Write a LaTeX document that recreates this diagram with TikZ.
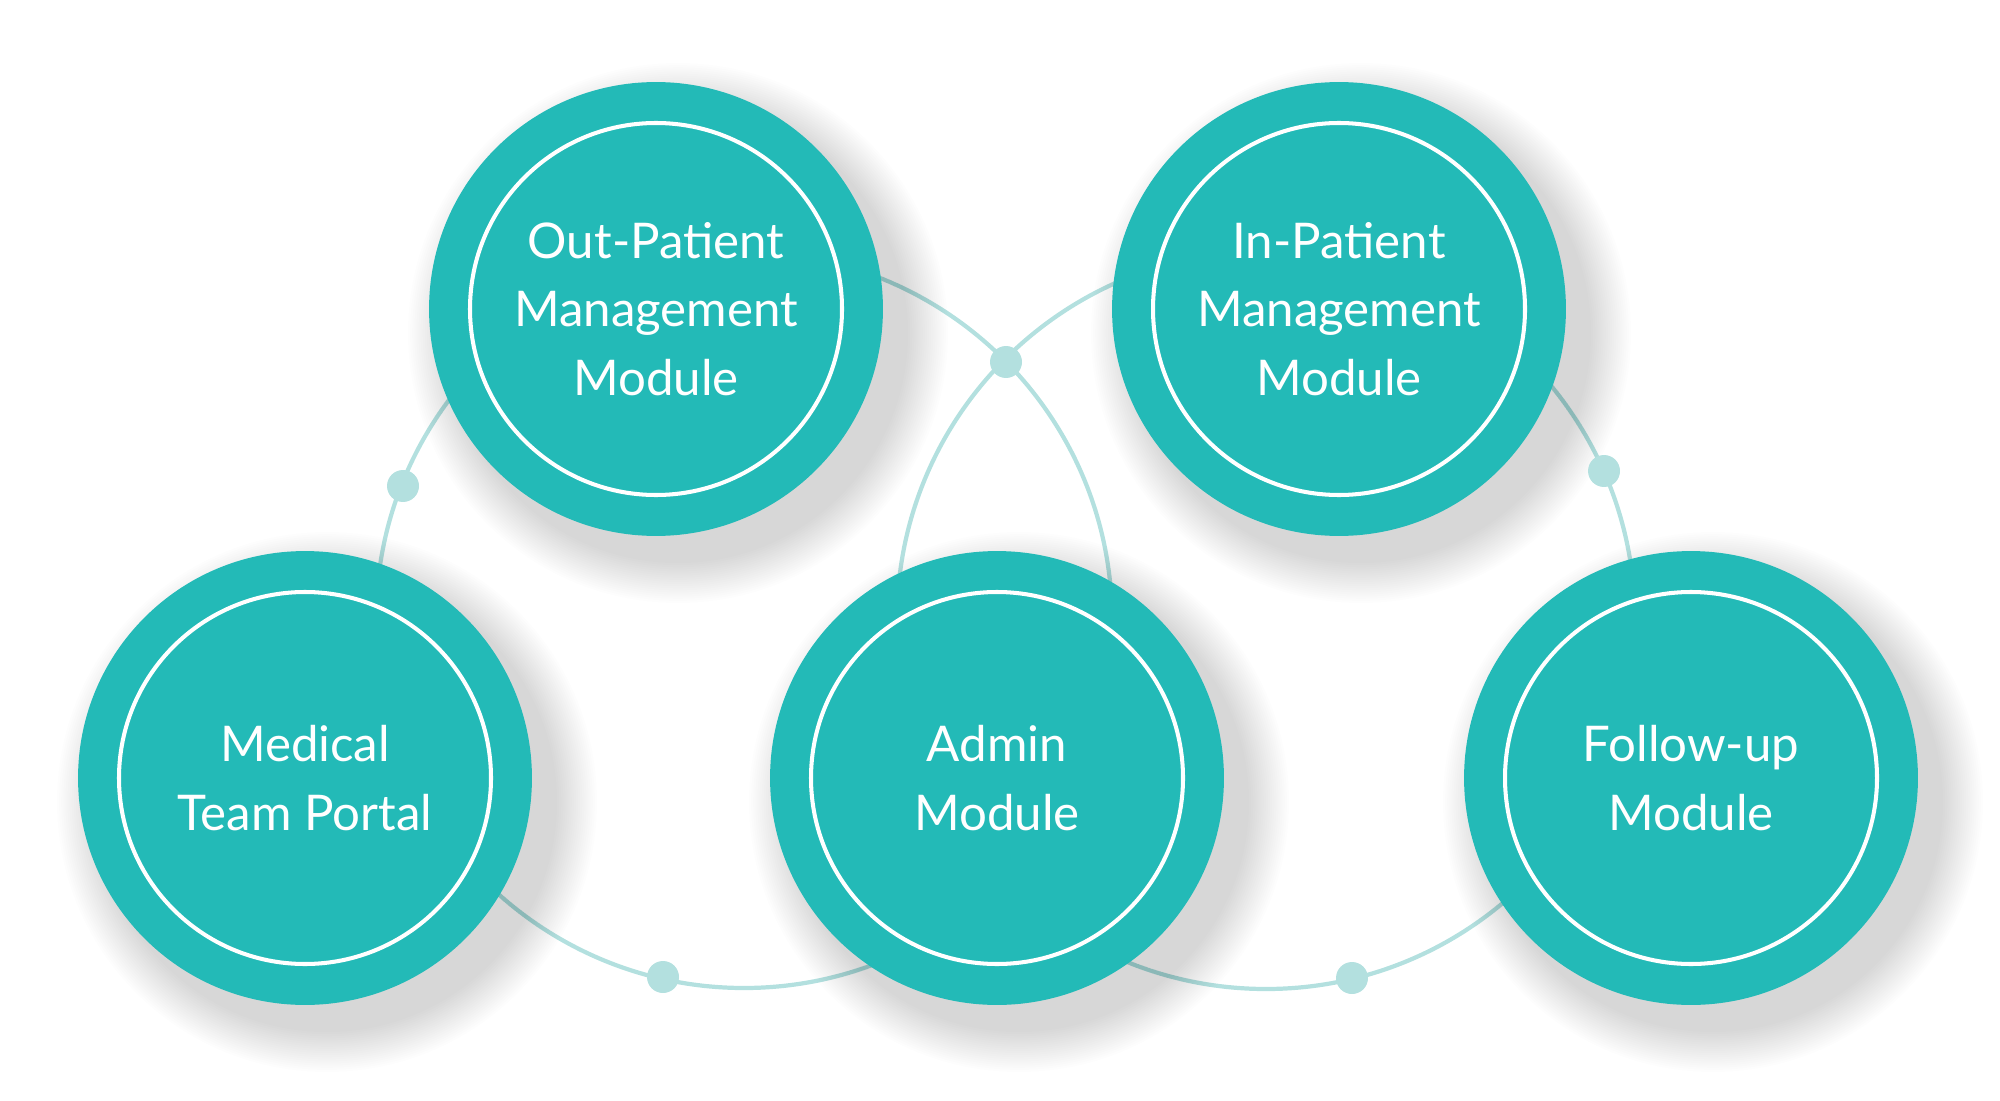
\documentclass[tikz,border=0pt]{standalone}
\usepackage{fontspec}
\setmainfont{Lato}
\definecolor{modteal}{HTML}{23BAB7}
\definecolor{ringcol}{HTML}{B3E0DF}

\begin{document}
\begin{tikzpicture}[x=0.02cm, y=-0.02cm]
        \tikzstyle{every node}=[font=\fontsize{28}{39}\selectfont, text=white, align=center]
        \tikzstyle{module}=[circle, fill=modteal, inner sep=0pt, minimum size=9.08cm]
        \tikzstyle{core}=[draw=white, line width=2.3pt]
        \tikzstyle{ring}=[draw=ringcol, line width=2.4pt]
        \tikzstyle{joint}=[circle, fill=ringcol, inner sep=0pt, minimum size=0.64cm]
        \useasboundingbox (0,0) rectangle (2000,1101);
        % the two big rings behind the modules
        \coordinate (ringL) at (744,620);
        \coordinate (ringR) at (1266,620);
        \draw[ring] (ringL) circle[radius=368];
        \draw[ring] (ringR) circle[radius=369];
        % soft shadows
        \foreach \cx/\cy in {305/778, 656/309, 997/778, 1339/309, 1691/778}
            \foreach \i in {0,...,19}
                \fill[black, opacity=0.009] (\cx+22,\cy+24) circle[radius=270-\i*2.1];
        % joints on the rings
        \node[joint] (jOut) at (403,486) {};
        \node[joint] (jTop) at (1006,362) {};
        \node[joint] (jIn) at (1604,471) {};
        \node[joint] (jLow) at (663,977) {};
        \node[joint] (jFol) at (1352,978) {};
        % modules
        \node[module] (medical) at (305,778) {Medical\\Team Portal};
        \node[module] (outpat) at (656,309) {Out-Patient\\Management\\Module};
        \node[module] (admin) at (997,778) {Admin\\Module};
        \node[module] (inpat) at (1339,309) {In-Patient\\Management\\Module};
        \node[module] (followup) at (1691,778) {Follow-up\\Module};
        \foreach \m in {medical, outpat, admin, inpat, followup}
            \draw[core] (\m.center) circle[radius=186];
\end{tikzpicture}
\end{document}
